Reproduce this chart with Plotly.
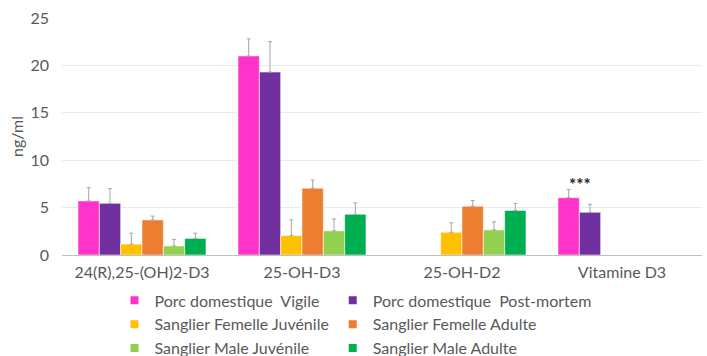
import plotly.graph_objects as go

# Analytes on the x axis
categories = ["24(R),25-(OH)2-D3", "25-OH-D3", "25-OH-D2", "Vitamine D3"]

# Mean concentrations (ng/ml) per group; None = not measured
porc_vigile = [5.7, 21.0, None, 6.05]
porc_post_mortem = [5.45, 19.3, None, 4.5]
sanglier_f_juv = [1.15, 2.05, 2.4, None]
sanglier_f_adulte = [3.7, 7.05, 5.15, None]
sanglier_m_juv = [0.95, 2.55, 2.65, None]
sanglier_m_adulte = [1.75, 4.3, 4.7, None]

# Upper error bar lengths (ng/ml)
err_porc_vigile = [1.4, 1.8, 0, 0.85]
err_porc_post_mortem = [1.55, 3.2, 0, 0.85]
err_sanglier_f_juv = [1.15, 1.65, 1.0, 0]
err_sanglier_f_adulte = [0.4, 0.85, 0.6, 0]
err_sanglier_m_juv = [0.7, 1.25, 0.85, 0]
err_sanglier_m_adulte = [0.55, 1.2, 0.75, 0]

# (label, values, errors, colour, legend column)
series = [
    ("Porc domestique\u00a0 Vigile", porc_vigile, err_porc_vigile, "#FF33CC", "legend"),
    ("Porc domestique\u00a0 Post-mortem", porc_post_mortem, err_porc_post_mortem, "#7030A0", "legend2"),
    ("Sanglier Femelle Juvénile", sanglier_f_juv, err_sanglier_f_juv, "#FFC000", "legend"),
    ("Sanglier Femelle Adulte", sanglier_f_adulte, err_sanglier_f_adulte, "#ED7D31", "legend2"),
    ("Sanglier Male Juvénile", sanglier_m_juv, err_sanglier_m_juv, "#92D050", "legend"),
    ("Sanglier Male Adulte", sanglier_m_adulte, err_sanglier_m_adulte, "#00B050", "legend2"),
]

FONT = "Lato, 'Open Sans', sans-serif"
TEXT_COLOR = "#595959"

fig = go.Figure()
for name, vals, errs, color, _ in series:
    fig.add_trace(go.Bar(
        name=name,
        x=categories,
        y=vals,
        showlegend=False,
        marker=dict(color=color, line=dict(color="rgba(255,255,255,0.55)", width=1)),
        error_y=dict(type="data", array=errs, symmetric=False,
                     arrayminus=[0] * len(errs),
                     color="#A6A6A6", thickness=1, width=2),
    ))

# Small square legend keys, split over two columns
for name, vals, errs, color, leg in series:
    fig.add_trace(go.Scatter(
        name=name, x=[None], y=[None], mode="markers", legend=leg,
        marker=dict(symbol="square", size=8, color=color),
        hoverinfo="skip",
    ))

# Significance marker over the Vitamine D3 pig bars
fig.add_annotation(x="Vitamine D3", y=7.45, text="<b>***</b>", showarrow=False,
                   xshift=-42, font=dict(family=FONT, size=17, color="#262626"))

legend_common = dict(orientation="v", y=-0.12, yanchor="top", xanchor="left",
                     itemwidth=30, tracegroupgap=0, bgcolor="rgba(0,0,0,0)",
                     font=dict(family=FONT, size=16, color=TEXT_COLOR))

fig.update_layout(
    width=707, height=356,
    margin=dict(l=62, r=5, t=18, b=101, autoexpand=False),
    paper_bgcolor="white", plot_bgcolor="white",
    barmode="group", bargap=0.2, bargroupgap=0,
    font=dict(family=FONT, size=16, color=TEXT_COLOR),
    showlegend=True,
    legend=dict(x=0.082, **legend_common),
    legend2=dict(x=0.423, **legend_common),
    yaxis=dict(range=[0, 25], tickvals=[0, 5, 10, 15, 20, 25],
               showgrid=True, gridcolor="#EBEBEB", gridwidth=1,
               zeroline=True, zerolinecolor="#BFBFBF", zerolinewidth=1,
               showline=False, ticks="", ticklabelstandoff=12,
               tickfont=dict(family=FONT, size=16, color=TEXT_COLOR),
               title=dict(text="ng/ml", standoff=2,
                          font=dict(family=FONT, size=16, color=TEXT_COLOR))),
    xaxis=dict(showline=False, ticks="", showgrid=False, ticklabelstandoff=6,
               tickfont=dict(family=FONT, size=16, color=TEXT_COLOR)),
)

fig.write_html("out.html")
